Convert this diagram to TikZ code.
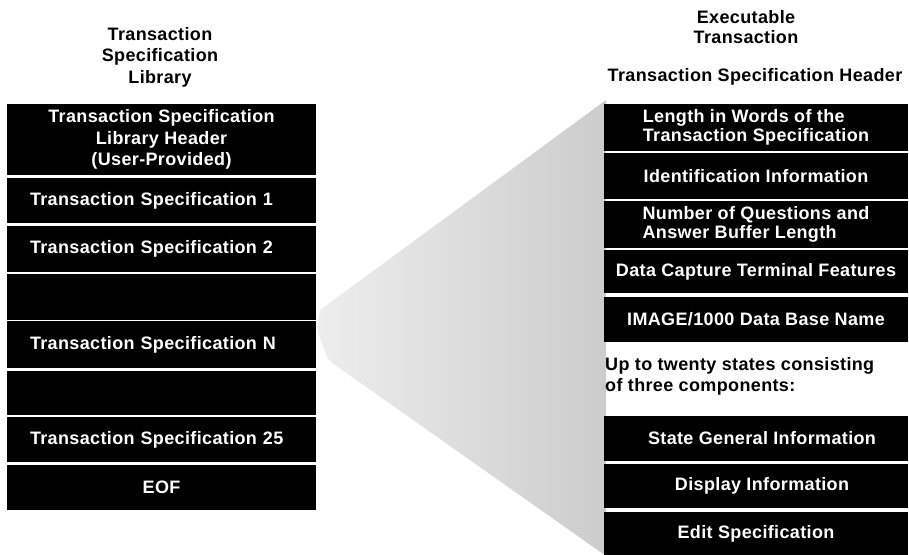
\documentclass[tikz,border=0pt]{standalone}
\usepackage{fontspec}
\setmainfont{Liberation Sans}[LetterSpace=2]
\begin{document}
\begin{tikzpicture}[x=1pt,y=-1pt,
  every node/.style={inner sep=0pt,font=\fontsize{18}{20}\selectfont\bfseries},
  lbox/.style={fill=black,text=white,minimum width=309pt},
  ltext/.style={lbox,text width=263pt,align=left},
  rbox/.style={fill=black,text=white,minimum width=304pt,align=left},
  title/.style={align=center}]
\useasboundingbox (0,0) rectangle (909,554);

% shaded wedge fanning out from the library to the expanded transaction
\shade[left color=gray!14,right color=gray!40]
  (606,100) -- (320,310) [rounded corners=6pt] -- (317,330) -- (328,360) [sharp corners] -- (606,556) -- cycle;

% left column: the library file
\node[title,font=\fontsize{18}{21.5}\selectfont\bfseries] (ltitle) at (160,57) {Transaction\\Specification\\Library};
\node[lbox,minimum height=71pt,align=center,font=\fontsize{18}{21.5}\selectfont\bfseries] (hdr) at (161.5,139.5)
  {Transaction Specification\\Library Header\\(User-Provided)};
\node[ltext,minimum height=45pt] (ts1) at (161.5,200.5) {Transaction Specification 1};
\node[ltext,minimum height=46pt] (ts2) at (161.5,249) {Transaction Specification 2};
\node[lbox,minimum height=46pt] (gap1) at (161.5,297) {};
\node[ltext,minimum height=47pt] (tsn) at (161.5,344.5) {Transaction Specification N};
\node[lbox,minimum height=44pt] (gap2) at (161.5,393) {};
\node[ltext,minimum height=45pt] (ts25) at (161.5,439.5) {Transaction Specification 25};
\node[lbox,minimum height=45pt,text width=263pt,align=center] (eof) at (161.5,487.5) {EOF};

% right column: one executable transaction
\node[title] (rtitle) at (746,27) {Executable\\Transaction};
\node (rhead) at (755,77) {Transaction Specification Header};
\node[rbox,minimum height=47pt,font=\fontsize{18}{19.5}\selectfont\bfseries] (len) at (756,127.5)
  {Length in Words of the\\Transaction Specification};
\node[rbox,minimum height=46pt] (ident) at (756,176) {Identification Information};
\node[rbox,minimum height=47pt,font=\fontsize{18}{19.5}\selectfont\bfseries] (numq) at (756,224.5)
  {Number of Questions and\\Answer Buffer Length};
\node[rbox,minimum height=43pt] (dcap) at (756,271.5) {Data Capture Terminal Features};
\node[rbox,minimum height=45pt] (img) at (756,319.5) {IMAGE/1000 Data Base Name};
\node[align=left,anchor=west,font=\fontsize{18}{21}\selectfont\bfseries] (states) at (605,376)
  {Up to twenty states consisting\\of three components:};
\node[rbox,minimum height=45pt] (sgen) at (756,438.5) {\hspace*{12pt}State General Information};
\node[rbox,minimum height=44pt] (disp) at (756,486) {\hspace*{12pt}Display Information};
\node[rbox,minimum height=44pt] (edit) at (756,534) {Edit Specification};
\end{tikzpicture}
\end{document}
